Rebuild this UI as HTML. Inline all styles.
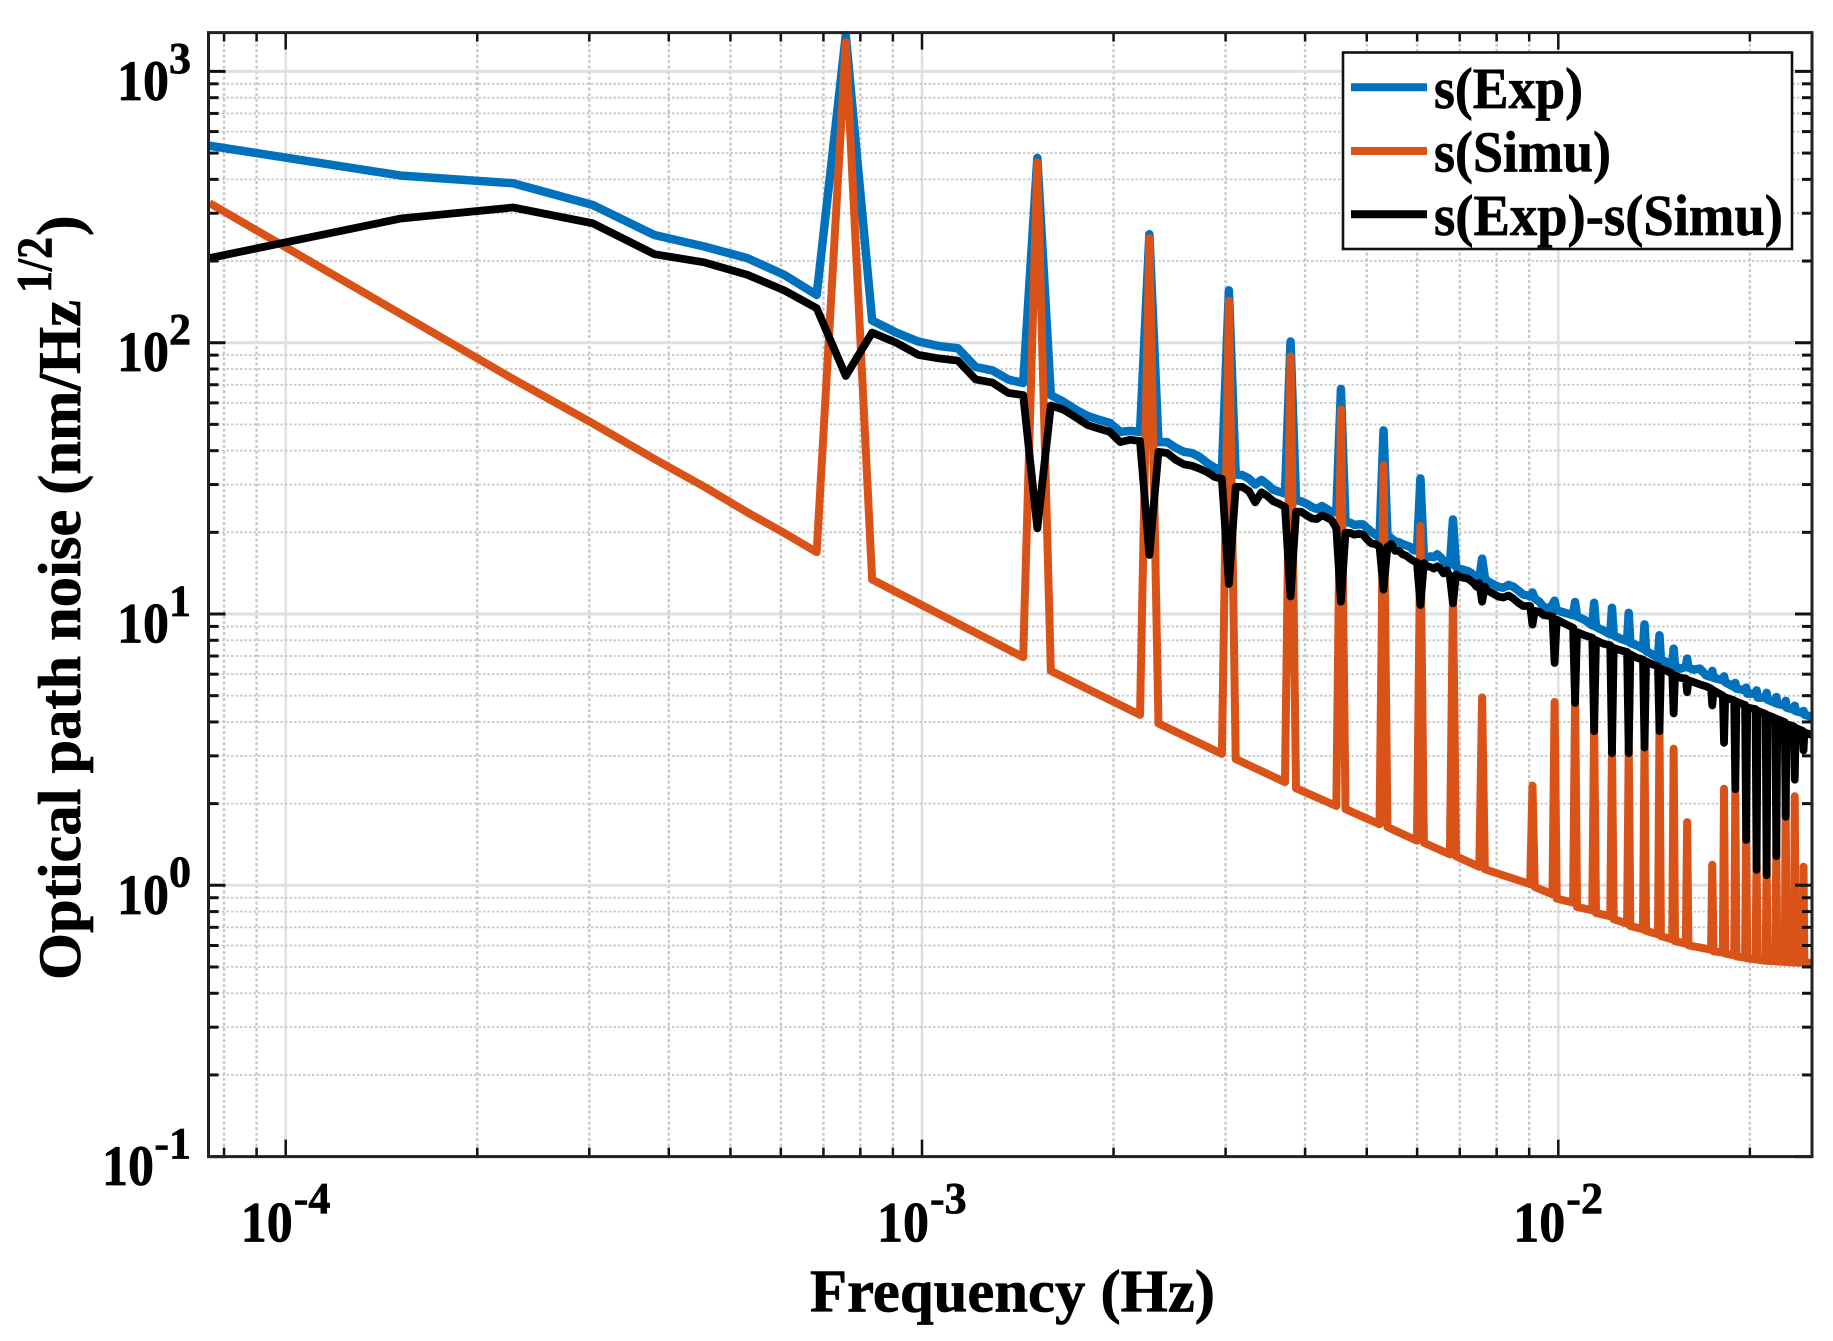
<!DOCTYPE html>
<html>
<head>
<meta charset="utf-8">
<title>Optical path noise spectrum</title>
<style>
  html, body { margin: 0; padding: 0; background: #fff; }
  svg { display: block; }
  text { font-family: "Liberation Serif", "Times New Roman", serif; font-weight: bold; fill: #000; stroke: #000; stroke-width: 0.7px; }
</style>
</head>
<body>
<svg id="chart" xmlns="http://www.w3.org/2000/svg" width="1833" height="1341" viewBox="0 0 1833 1341">
  <rect x="208.5" y="32.6" width="1603.5" height="1124" fill="#fff"/>
  <g id="grid"></g>
  <g id="series"></g>
  <g id="ticks"></g>
  <rect x="208.5" y="32.6" width="1603.5" height="1124" fill="none" stroke="#222" stroke-width="3"/>
  <g id="tick-labels"></g>

  <text x="810" y="1311.5" font-size="60" textLength="405" lengthAdjust="spacingAndGlyphs">Frequency (Hz)</text>
  <g>
    <text transform="translate(80,980) rotate(-90)" font-size="60" textLength="680" lengthAdjust="spacingAndGlyphs">Optical path noise (nm/Hz</text>
    <text transform="translate(51,293) rotate(-90)" font-size="50" textLength="56" lengthAdjust="spacingAndGlyphs">1/2</text>
    <text transform="translate(80,236) rotate(-90)" font-size="62">)</text>
  </g>

  <g>
    <rect x="1343" y="52.5" width="449" height="196.5" fill="#fff" stroke="#111" stroke-width="2.6"/>
    <line x1="1351" x2="1427" y1="87.3" y2="87.3" stroke="#0072BD" stroke-width="8"/>
    <text x="1434" y="108" font-size="58" textLength="149" lengthAdjust="spacingAndGlyphs">s(Exp)</text>
    <line x1="1351" x2="1427" y1="151" y2="151" stroke="#D95319" stroke-width="8"/>
    <text x="1434" y="171.5" font-size="58" textLength="177" lengthAdjust="spacingAndGlyphs">s(Simu)</text>
    <line x1="1351" x2="1427" y1="214.3" y2="214.3" stroke="#000" stroke-width="8"/>
    <text x="1434" y="235" font-size="58" textLength="349" lengthAdjust="spacingAndGlyphs">s(Exp)-s(Simu)</text>
  </g>
</svg>

<script>
// ---- chart data ----
const binWidthHz = 7.59e-5;
const xTickExponents = [-4, -3, -2];
const yTickExponents = [3, 2, 1, 0, -1];

const expBins = [1,2,3,4,5,6,7,8,9,10,11,12,13,14,15,16,17,18,19,20,
  21,22,23,24,25,26,27,28,29,30,31,32,33,34,35,36,37,38,39,40,
  41,42,43,44,45,46,47,48,49,50,51,52,53,54,55,56,57,58,59,60,
  61,62,63,64,65,66,67,68,69,70,71,72,73,74,75,76,77,78,79,80,
  81,82,83,84,85,86,87,88,89,90,91,92,95,96,97,98,99,100,
  101,102,104,106,108,110,112,114,116,118,119,120,121,123,125,128,
  130,131,132,135,139,140,141,145,149,150,151,155,159,160,161,165,169,170,171,175,179,180,181,185,189,190,191,195,199,200,201,205,209,210,211,215,220,225,229,230,231,
  239,240,241,249,250,251,259,260,261,269,270,271,279,280,281,289,290,291,299,300,301,309,310,311,319,320,321,330];
const expValues = [532,413,387,322,249.5,226,205,178,150,1360,120.8,109,101,97.2,95.4,81.4,79,73.2,71,480,
  64.1,60.5,56.6,53.7,52,50.6,46.9,47.3,46.9,251,43,43,41,39.6,39.2,37.9,36,34.6,33.8,156,
  32.7,32.5,31.6,30,31.2,30,28.7,28.2,27.8,101,26.3,26,25.5,24.8,24.4,25,24.4,23.8,23.7,67.5,
  21.8,21.7,21.3,21.4,21.4,20.7,20.1,19.6,19.1,47.5,19.6,19,18.5,18.4,18.1,17.9,17.7,17.2,17.1,31.6,
  16.3,16.2,16.3,16.2,16.6,16.2,15.7,15.4,15.2,22.3,14.9,14.7,14.4,14.2,13.9,13.7,13.5,16,
  13.6,13.2,12.9,12.6,12.5,12.8,12.6,12.2,11.8,11.7,11.6,12,11.4,11.1,10.6,10.5,
  11.2,10.3,10.26,10.1,9.9,11.07,9.8,9.5,9.08,11,8.96,8.7,8.41,10.55,8.34,8.11,7.95,10.1,7.82,7.67,7.45,9.16,7.31,7.1,6.9,8.35,6.79,6.65,6.47,7.45,6.41,6.29,6.38,6.85,6.34,6.24,6.29,5.94,5.86,6.17,5.82,
  5.7,5.89,5.61,5.38,5.57,5.31,5.23,5.35,5.09,5.09,5.23,4.92,4.92,5.12,4.83,4.7,4.94,4.67,4.6,4.78,4.52,4.44,4.59,4.39,4.32,4.39,4.26,4.17];

const simuBins = [1,2,3,4,5,6,7,8,9,10,11,19,20,21,29,30,31,39,40,41,49,50,51,59,60,61,69,70,71,79,80,81,89,90,91,99,100,101,
  119,120,121,129,130,131,139,140,141,149,150,151,159,160,161,169,170,171,179,180,181,189,190,191,199,200,201,209,210,211,
  229,230,231,239,240,241,249,250,251,259,260,261,269,270,271,279,280,281,289,290,291,299,300,301,309,310,311,319,320,321,330];
const simuValues = [327,127.5,73.5,50.5,37.3,29.4,23.7,19.9,16.9,1280,13.4,6.93,462,6.17,4.25,243,3.95,3.05,142.6,2.92,2.4,89,2.28,1.96,56.8,1.91,1.68,35.3,1.64,1.46,21.1,1.435,1.3,12,1.28,1.17,4.93,1.146,
  1.01,2.33,0.985,0.927,4.74,0.893,0.863,5,0.832,0.809,4,0.791,0.769,3.3,0.75,0.723,3.3,0.708,0.689,3.4,0.679,0.66,3.9,0.65,0.632,3.19,0.623,0.61,1.71,0.601,
  0.579,1.19,0.571,0.565,2.27,0.56,0.552,2.25,0.547,0.541,1.6,0.538,0.533,1.25,0.532,0.527,1.2,0.526,0.525,1.4,0.524,0.522,1.95,0.521,0.52,2.13,0.519,0.519,1.17,0.518,0.518];

const diffBins = [1,2,3,4,5,6,7,8,9,10,11,12,13,14,15,16,17,18,19,20,
  21,22,23,24,25,26,27,28,29,30,31,32,33,34,35,36,37,38,39,40,
  41,42,43,44,45,46,47,48,49,50,51,52,53,54,55,56,57,58,59,60,
  61,62,63,64,65,66,67,68,69,70,71,72,73,74,75,76,77,78,79,80,
  81,82,83,84,85,86,87,88,89,90,91,92,95,97,98,99,100,
  101,102,104,106,108,110,112,114,116,119,120,121,123,125,129,
  130,131,135,139,140,141,145,149,150,151,155,159,160,161,165,169,170,171,175,179,180,181,185,189,190,191,195,199,200,201,205,209,210,211,215,220,225,229,230,231,
  239,240,241,249,250,251,259,260,261,269,270,271,279,280,281,289,290,291,299,300,301,309,310,311,319,320,321,330];
const diffValues = [205,287,315,275.6,212,197.6,178,156,134,75.4,109,100,90.2,87.5,85.9,73.2,71.3,65.3,64.1,20.7,
  58.7,56.6,53,49.7,48.2,46.9,43,43.9,43.4,16.5,39.6,39.2,37,35.6,35.2,34.3,33.3,32,31.5,12.9,
  29.4,29.4,28.4,25.8,28.1,27.2,26,25.5,24.8,11.6,23.8,23.8,23.1,22.5,22.4,23.1,22.7,22.2,20.7,11.1,
  19.95,19.9,19.6,19.8,19.6,18.8,18.2,18.1,17.7,12.3,17.7,18.1,17.1,17.1,16.6,16.4,16,15.7,15.5,10.8,
  15.4,15,14.9,14.7,15,14.7,14.1,14.5,13.7,10.95,14,13.7,13.5,13,12.6,13,11.1,
  12.6,12.2,11.9,11.6,11.5,11.7,11.4,11,10.7,10.7,9.14,10.26,10.2,9.9,9.8,
  6.6,9.53,9.2,8.9,4.7,8.58,8.34,8.18,3.7,8,7.77,7.67,3.07,7.5,7.35,7.24,3.07,7.1,6.9,6.79,3.22,6.69,6.53,6.41,3.7,6.29,6.17,6.03,4.3,5.94,5.82,5.78,5.15,5.7,5.61,5.5,5.41,5.31,4.6,5.23,
  5,3.35,4.93,4.8,2.26,4.75,4.62,1.47,4.52,4.46,1.14,4.4,4.28,1.09,4.24,4.13,1.28,4.1,3.99,1.79,3.93,3.85,2.45,3.8,3.71,3.14,3.66,3.58];

// ---- axis functions ----
const SVG_NS = 'http://www.w3.org/2000/svg';
const plotLeft = 208.5, plotRight = 1812, plotTop = 32.6, plotBottom = 1156.6;
const xDecade = 636.3, yDecade = 271.3;
function xScale(freq) { return 285.7 + (Math.log10(freq) + 4) * xDecade; }
function yScale(value) { return 71.4 + (3 - Math.log10(value)) * yDecade; }

function make(tag, parent) {
  const el = document.createElementNS(SVG_NS, tag);
  parent.appendChild(el);
  return el;
}
function setLine(el, x1, y1, x2, y2, color, width, dash) {
  el.setAttribute('x1', x1);
  el.setAttribute('y1', y1);
  el.setAttribute('x2', x2);
  el.setAttribute('y2', y2);
  el.setAttribute('stroke', color);
  el.setAttribute('stroke-width', width);
  if (dash) el.setAttribute('stroke-dasharray', dash);
}

const gridGroup = document.getElementById('grid');
const tickGroup = document.getElementById('ticks');
const labelGroup = document.getElementById('tick-labels');

// ---- grid and ticks ----
const minFreq = binWidthHz * 0.999, maxFreq = 0.02506;
for (let d = -5; d <= -2; d++) {
  for (let k = 1; k <= 9; k++) {
    const f = k * Math.pow(10, d);
    if (f < minFreq || f > maxFreq) continue;
    const x = xScale(f);
    const major = k === 1;
    const g = make('line', gridGroup);
    
    
    if (major) setLine(g, x, plotTop, x, plotBottom, '#e0e0e0', 2.5);
    else setLine(g, x, plotTop, x, plotBottom, '#c8c8c8', 2.4, '3 2.5');
    const len = major ? 17 : 9;
    const t1 = make('line', tickGroup);
    
    
    setLine(t1, x, plotBottom, x, plotBottom - len, '#111', 2.5);
    const t2 = make('line', tickGroup);
    
    
    setLine(t2, x, plotTop, x, plotTop + len, '#111', 2.5);
  }
}
for (let d = -1; d <= 3; d++) {
  for (let k = 1; k <= 9; k++) {
    const v = k * Math.pow(10, d);
    const y = yScale(v);
    if (y < plotTop || y > plotBottom + 0.5) continue;
    const major = k === 1;
    const g = make('line', gridGroup);
    
    
    if (major) setLine(g, plotLeft, y, plotRight, y, '#e0e0e0', 3);
    else setLine(g, plotLeft, y, plotRight, y, '#c8c8c8', 1.8, '2.5 2');
    const len = major ? 17 : 10;
    const t1 = make('line', tickGroup);
    
    
    setLine(t1, plotLeft, y, plotLeft + len, y, '#111', 3);
    const t2 = make('line', tickGroup);
    
    
    setLine(t2, plotRight, y, plotRight - len, y, '#111', 3);
  }
}

// ---- tick labels ----
yTickExponents.forEach(function (e) {
  const y = yScale(Math.pow(10, e));
  const supW = e < 0 ? 35 : 20;
  const base = make('text', labelGroup);
  
  
  base.setAttribute('x', 191 - supW - 54);
  base.setAttribute('y', y + 28.5);
  base.setAttribute('font-size', '57');
  base.setAttribute('textLength', '52');
  base.setAttribute('lengthAdjust', 'spacingAndGlyphs');
  base.textContent = '10';
  const sup = make('text', labelGroup);
  
  
  sup.setAttribute('x', 191);
  sup.setAttribute('y', y + 1.4);
  sup.setAttribute('text-anchor', 'end');
  sup.setAttribute('font-size', '44');
  sup.textContent = String(e);
});
xTickExponents.forEach(function (e) {
  const x = xScale(Math.pow(10, e));
  const base = make('text', labelGroup);
  
  
  base.setAttribute('x', x - 45);
  base.setAttribute('y', 1241.5);
  base.setAttribute('font-size', '57');
  base.setAttribute('textLength', '52');
  base.setAttribute('lengthAdjust', 'spacingAndGlyphs');
  base.textContent = '10';
  const sup = make('text', labelGroup);
  
  
  sup.setAttribute('x', x + 8);
  sup.setAttribute('y', 1213);
  sup.setAttribute('font-size', '44');
  sup.textContent = String(e);
});

// ---- series ----
function pathFrom(bins, values) {
  return bins.map(function (b, i) {
    return (i ? 'L' : 'M') + xScale(b * binWidthHz).toFixed(2) + ' ' + yScale(values[i]).toFixed(2);
  }).join(' ');
}
const seriesGroup = document.getElementById('series');

const expLine = make('path', seriesGroup);


expLine.setAttribute('d', pathFrom(expBins, expValues));
expLine.setAttribute('fill', 'none');
expLine.setAttribute('stroke', '#0072BD');
expLine.setAttribute('stroke-width', '8.5');
expLine.setAttribute('stroke-linejoin', 'round');

const simuLine = make('path', seriesGroup);


simuLine.setAttribute('d', pathFrom(simuBins, simuValues));
simuLine.setAttribute('fill', 'none');
simuLine.setAttribute('stroke', '#D95319');
simuLine.setAttribute('stroke-width', '8');
simuLine.setAttribute('stroke-linejoin', 'round');

const diffLine = make('path', seriesGroup);


diffLine.setAttribute('d', pathFrom(diffBins, diffValues));
diffLine.setAttribute('fill', 'none');
diffLine.setAttribute('stroke', '#000');
diffLine.setAttribute('stroke-width', '7.8');
diffLine.setAttribute('stroke-linejoin', 'round');
</script>
</body>
</html>
